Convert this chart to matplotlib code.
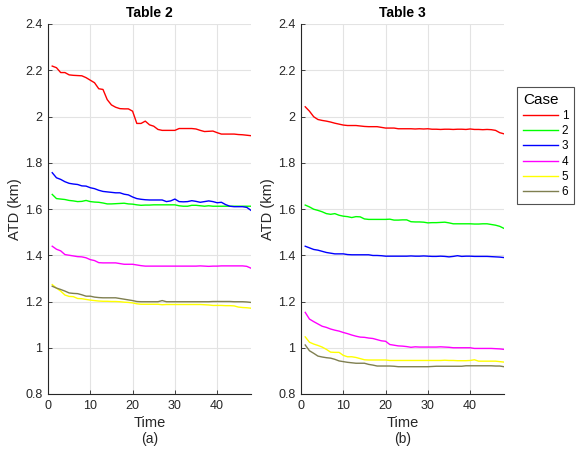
import numpy as np
import matplotlib.pyplot as plt

plt.rcParams['font.family'] = ['Liberation Sans', 'DejaVu Sans']

# time steps
time = list(range(1, 49))

# Table 2 (ATD in km per case)
t2_case1 = [2.218, 2.211, 2.19, 2.19, 2.18, 2.178, 2.177, 2.176, 2.168, 2.157,
            2.146, 2.12, 2.117, 2.073, 2.05, 2.04, 2.034, 2.033, 2.033, 2.023,
            1.97, 1.97, 1.98, 1.964, 1.958, 1.944, 1.94, 1.94, 1.94, 1.94,
            1.948, 1.948, 1.948, 1.948, 1.946, 1.94, 1.935, 1.936, 1.937, 1.93,
            1.924, 1.924, 1.924, 1.924, 1.922, 1.921, 1.919, 1.917]
t2_case2 = [1.663, 1.645, 1.643, 1.641, 1.637, 1.635, 1.632, 1.633, 1.637, 1.632,
            1.63, 1.629, 1.626, 1.622, 1.622, 1.623, 1.624, 1.625, 1.622, 1.621,
            1.618, 1.616, 1.617, 1.617, 1.618, 1.618, 1.618, 1.618, 1.618, 1.618,
            1.614, 1.612, 1.612, 1.616, 1.616, 1.614, 1.612, 1.614, 1.612, 1.612,
            1.612, 1.612, 1.612, 1.612, 1.612, 1.612, 1.612, 1.612]
t2_case3 = [1.757, 1.735, 1.728, 1.718, 1.711, 1.708, 1.706, 1.70, 1.699, 1.692,
            1.688, 1.681, 1.676, 1.674, 1.672, 1.67, 1.67, 1.664, 1.661, 1.652,
            1.645, 1.642, 1.64, 1.639, 1.639, 1.639, 1.639, 1.632, 1.635, 1.643,
            1.632, 1.631, 1.632, 1.636, 1.633, 1.629, 1.632, 1.635, 1.632, 1.627,
            1.629, 1.619, 1.612, 1.61, 1.61, 1.61, 1.607, 1.594]
t2_case4 = [1.439, 1.426, 1.419, 1.403, 1.40, 1.397, 1.394, 1.393, 1.389, 1.381,
            1.377, 1.368, 1.367, 1.367, 1.367, 1.367, 1.364, 1.361, 1.361, 1.361,
            1.358, 1.355, 1.353, 1.353, 1.353, 1.353, 1.353, 1.353, 1.353, 1.353,
            1.353, 1.353, 1.353, 1.353, 1.353, 1.354, 1.353, 1.352, 1.353, 1.353,
            1.354, 1.354, 1.354, 1.354, 1.354, 1.354, 1.352, 1.344]
t2_case5 = [1.273, 1.258, 1.245, 1.228, 1.222, 1.221, 1.213, 1.212, 1.209, 1.206,
            1.204, 1.202, 1.201, 1.201, 1.2, 1.2, 1.199, 1.197, 1.196, 1.194,
            1.19, 1.188, 1.188, 1.188, 1.188, 1.188, 1.186, 1.187, 1.187, 1.187,
            1.187, 1.187, 1.187, 1.187, 1.187, 1.187, 1.186, 1.185, 1.183, 1.183,
            1.183, 1.182, 1.182, 1.181, 1.176, 1.174, 1.173, 1.171]
t2_case6 = [1.266, 1.258, 1.252, 1.245, 1.237, 1.235, 1.234, 1.229, 1.223, 1.223,
            1.219, 1.217, 1.216, 1.216, 1.216, 1.216, 1.213, 1.21, 1.207, 1.204,
            1.2, 1.199, 1.199, 1.199, 1.199, 1.199, 1.204, 1.199, 1.199, 1.199,
            1.199, 1.199, 1.199, 1.199, 1.199, 1.199, 1.199, 1.199, 1.2, 1.2,
            1.2, 1.2, 1.2, 1.199, 1.199, 1.199, 1.198, 1.196]

# Table 3 (ATD in km per case)
t3_case1 = [2.042, 2.023, 1.999, 1.987, 1.983, 1.98, 1.976, 1.971, 1.967, 1.963,
            1.961, 1.961, 1.961, 1.959, 1.957, 1.956, 1.956, 1.956, 1.953, 1.95,
            1.95, 1.95, 1.947, 1.947, 1.947, 1.947, 1.946, 1.947, 1.946, 1.947,
            1.945, 1.945, 1.944, 1.945, 1.945, 1.944, 1.945, 1.945, 1.944, 1.946,
            1.944, 1.944, 1.943, 1.944, 1.943, 1.94, 1.93, 1.925]
t3_case2 = [1.617, 1.609, 1.599, 1.594, 1.588, 1.58, 1.577, 1.58, 1.573, 1.569,
            1.567, 1.563, 1.567, 1.566, 1.557, 1.555, 1.555, 1.555, 1.555, 1.555,
            1.556, 1.552, 1.552, 1.553, 1.553, 1.545, 1.544, 1.544, 1.543, 1.54,
            1.541, 1.541, 1.542, 1.543, 1.54, 1.536, 1.536, 1.536, 1.536, 1.536,
            1.535, 1.535, 1.536, 1.536, 1.533, 1.53, 1.525, 1.516]
t3_case3 = [1.439, 1.432, 1.425, 1.422, 1.417, 1.412, 1.409, 1.406, 1.406, 1.406,
            1.403, 1.402, 1.402, 1.402, 1.402, 1.402, 1.399, 1.399, 1.398, 1.396,
            1.396, 1.396, 1.396, 1.396, 1.396, 1.397, 1.396, 1.396, 1.397, 1.396,
            1.395, 1.395, 1.396, 1.395, 1.393, 1.395, 1.398, 1.395, 1.396, 1.396,
            1.395, 1.395, 1.395, 1.395, 1.394, 1.393, 1.392, 1.39]
t3_case4 = [1.153, 1.124, 1.113, 1.103, 1.093, 1.088, 1.081, 1.076, 1.072, 1.066,
            1.061, 1.055, 1.05, 1.046, 1.045, 1.042, 1.04, 1.035, 1.03, 1.028,
            1.014, 1.011, 1.008, 1.007, 1.005, 1.002, 1.004, 1.003, 1.003, 1.003,
            1.003, 1.003, 1.004, 1.003, 1.002, 1.0, 1.0, 1.0, 1.0, 1.0,
            0.997, 0.997, 0.997, 0.997, 0.997, 0.996, 0.995, 0.993]
t3_case5 = [1.047, 1.024, 1.016, 1.01, 1.003, 0.993, 0.981, 0.98, 0.98, 0.967,
            0.961, 0.961, 0.958, 0.953, 0.948, 0.947, 0.947, 0.947, 0.947, 0.947,
            0.945, 0.945, 0.945, 0.945, 0.945, 0.945, 0.945, 0.945, 0.945, 0.945,
            0.945, 0.945, 0.945, 0.946, 0.945, 0.945, 0.944, 0.944, 0.944, 0.945,
            0.948, 0.942, 0.942, 0.942, 0.942, 0.942, 0.94, 0.938]
t3_case6 = [1.012, 0.987, 0.976, 0.964, 0.96, 0.957, 0.955, 0.95, 0.943, 0.94,
            0.937, 0.935, 0.933, 0.933, 0.933, 0.928, 0.925, 0.921, 0.921, 0.921,
            0.921, 0.92, 0.918, 0.918, 0.918, 0.918, 0.918, 0.918, 0.918, 0.918,
            0.919, 0.92, 0.92, 0.92, 0.92, 0.92, 0.92, 0.92, 0.922, 0.922,
            0.922, 0.922, 0.922, 0.922, 0.922, 0.921, 0.921, 0.918]

case_labels = ['1', '2', '3', '4', '5', '6']
colors = ['#ff0000', '#00ff00', '#0000ff', '#ff00ff', '#ffff00', '#7f7f50']

panels = [
    ('Table 2', '(a)', [t2_case1, t2_case2, t2_case3, t2_case4, t2_case5, t2_case6]),
    ('Table 3', '(b)', [t3_case1, t3_case2, t3_case3, t3_case4, t3_case5, t3_case6]),
]

fig = plt.figure(figsize=(5.76, 4.54), dpi=100)
W, H = 576.0, 454.0
lefts = [48, 301]
txt = '#262626'

for left, (title, sub, series) in zip(lefts, panels):
    ax = fig.add_axes([left / W, (H - 394) / H, 203 / W, 370 / H])
    for vals, c, lab in zip(series, colors, case_labels):
        ax.plot(time, vals, color=c, lw=1.0, label=lab)
    ax.set_xlim(0, 48)
    ax.set_ylim(0.8, 2.4)
    ax.set_xticks([0, 10, 20, 30, 40])
    ax.set_yticks([0.8, 1.0, 1.2, 1.4, 1.6, 1.8, 2.0, 2.2, 2.4])
    ax.set_yticklabels(['0.8', '1', '1.2', '1.4', '1.6', '1.8', '2', '2.2', '2.4'])
    ax.grid(True, color='#e3e3e3', lw=0.8)
    ax.set_axisbelow(True)
    for s in ['top', 'right']:
        ax.spines[s].set_visible(False)
    for s in ['left', 'bottom']:
        ax.spines[s].set_color(txt)
        ax.spines[s].set_linewidth(0.8)
    ax.tick_params(direction='in', length=3, width=0.6, colors=txt,
                   labelsize=9, pad=4)
    ax.set_title(title, fontsize=10, fontweight='bold', pad=5)
    ax.set_ylabel('ATD (km)', fontsize=10.5, color=txt, labelpad=2)
    ax.set_xlabel('Time', fontsize=10.5, color=txt, labelpad=3)
    ax.text(0.5, -45 / 370, sub, transform=ax.transAxes, ha='center',
            va='center', fontsize=10, color=txt)
    last_ax = ax

leg = last_ax.legend(loc='upper left', bbox_to_anchor=(517 / W, 1 - 87 / H),
                     bbox_transform=fig.transFigure, title='Case',
                     alignment='left', fontsize=8.5, title_fontsize=11,
                     frameon=True, fancybox=False, edgecolor=txt,
                     handlelength=3.0, handletextpad=0.3, labelspacing=0.27,
                     borderpad=0.5, borderaxespad=0)
leg.get_frame().set_linewidth(0.8)

fig.savefig('out.png', dpi=100)
